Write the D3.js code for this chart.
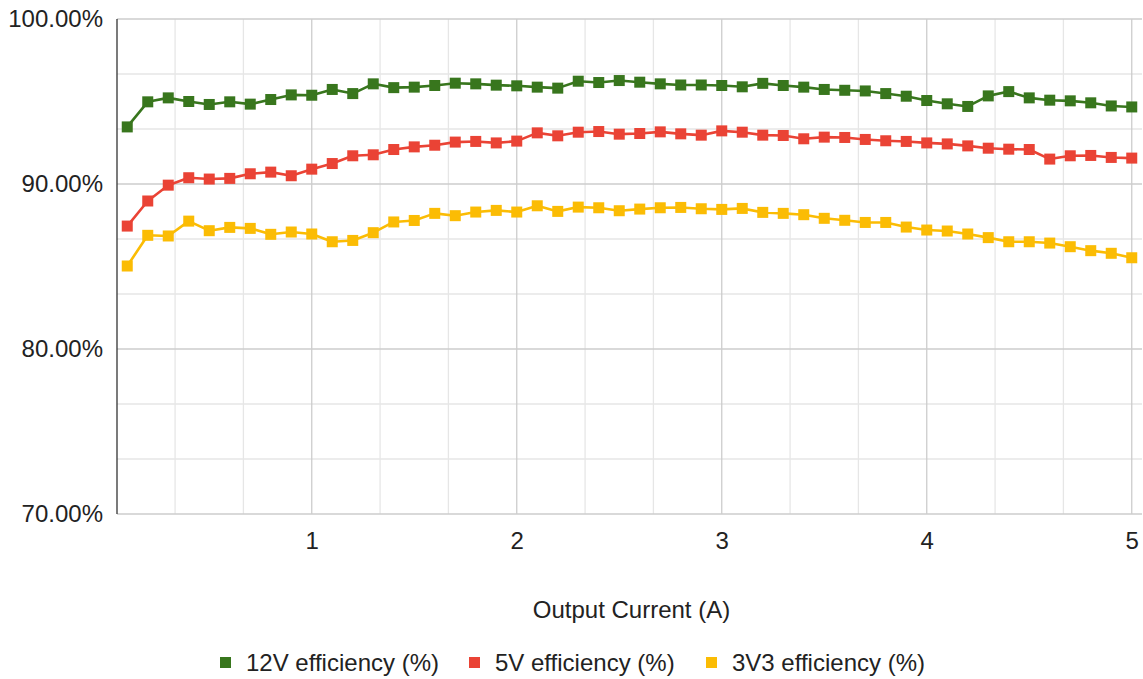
<!DOCTYPE html>
<html>
<head>
<meta charset="utf-8">
<script src="https://cdn.jsdelivr.net/npm/d3@7"></script>
<style>
  html, body { margin: 0; padding: 0; background: #fff; }
  svg { display: block; font-family: "Liberation Sans", Arial, sans-serif; }
</style>
</head>
<body>
<svg id="chart" width="1143" height="679"></svg>
<script>
const current = [
  0.1, 0.2, 0.3, 0.4, 0.5, 0.6, 0.7, 0.8, 0.9, 1.0,
  1.1, 1.2, 1.3, 1.4, 1.5, 1.6, 1.7, 1.8, 1.9, 2.0,
  2.1, 2.2, 2.3, 2.4, 2.5, 2.6, 2.7, 2.8, 2.9, 3.0,
  3.1, 3.2, 3.3, 3.4, 3.5, 3.6, 3.7, 3.8, 3.9, 4.0,
  4.1, 4.2, 4.3, 4.4, 4.5, 4.6, 4.7, 4.8, 4.9, 5.0
];

const eff12V = [
  93.46, 94.98, 95.22, 95.00, 94.82, 94.98, 94.84, 95.12, 95.40, 95.38,
  95.73, 95.48, 96.07, 95.84, 95.87, 95.97, 96.11, 96.07, 95.99, 95.95,
  95.87, 95.81, 96.23, 96.15, 96.27, 96.17, 96.07, 96.00, 96.00, 95.97,
  95.89, 96.10, 95.97, 95.87, 95.73, 95.68, 95.64, 95.48, 95.32, 95.06,
  94.86, 94.70, 95.34, 95.60, 95.22, 95.08, 95.04, 94.92, 94.73, 94.67
];

const eff5V = [
  87.45, 88.97, 89.93, 90.38, 90.30, 90.34, 90.62, 90.72, 90.50, 90.90,
  91.24, 91.71, 91.77, 92.09, 92.25, 92.35, 92.54, 92.58, 92.49, 92.60,
  93.10, 92.92, 93.14, 93.18, 93.02, 93.06, 93.16, 93.04, 92.96, 93.22,
  93.14, 92.96, 92.94, 92.74, 92.84, 92.82, 92.70, 92.62, 92.58, 92.49,
  92.43, 92.31, 92.17, 92.11, 92.09, 91.51, 91.71, 91.73, 91.61, 91.57
];

const eff3V3 = [
  85.03, 86.89, 86.85, 87.75, 87.17, 87.37, 87.31, 86.95, 87.09, 86.97,
  86.50, 86.58, 87.05, 87.70, 87.79, 88.22, 88.08, 88.30, 88.40, 88.30,
  88.68, 88.34, 88.60, 88.56, 88.38, 88.48, 88.56, 88.58, 88.50, 88.46,
  88.52, 88.28, 88.22, 88.14, 87.92, 87.80, 87.67, 87.67, 87.39, 87.21,
  87.15, 86.97, 86.75, 86.50, 86.50, 86.42, 86.20, 85.96, 85.80, 85.53
];

const seriesNames = ["12V efficiency (%)", "5V efficiency (%)", "3V3 efficiency (%)"];
const seriesColors = ["#38761d", "#ea4335", "#fbbc04"];
const xTicks = [1, 2, 3, 4, 5];
const yTicks = [70, 80, 90, 100];

const svg = d3.select("#chart"),
  margin = { top: 19, right: 1, bottom: 165, left: 117 },
  width = +svg.attr("width") - margin.left - margin.right,
  height = +svg.attr("height") - margin.top - margin.bottom;

const chart = svg.append("g")
  .attr("transform", `translate(${margin.left},${margin.top})`);

const x = d3.scaleLinear().domain([0.05, 5.05]).range([0, width]);
const y = d3.scaleLinear().domain([70, 100]).range([height, 0]);

// minor grid (thirds)
const minorX = d3.range(1, 16).map((i) => i / 3).filter((v) => Math.abs(v - Math.round(v)) > 1e-6);
const minorY = d3.range(0, 10).map((i) => 70 + (i * 10) / 3).filter((v) => Math.abs(v - Math.round(v / 10) * 10) > 1e-6);

chart.append("g").selectAll("line").data(minorX).join("line")
  .attr("x1", (d) => x(d)).attr("x2", (d) => x(d))
  .attr("y1", 0).attr("y2", height)
  .attr("stroke", "#e6e6e6").attr("stroke-width", 1.3);

chart.append("g").selectAll("line").data(minorY).join("line")
  .attr("x1", 0).attr("x2", width)
  .attr("y1", (d) => y(d)).attr("y2", (d) => y(d))
  .attr("stroke", "#e6e6e6").attr("stroke-width", 1.3);

// major grid
chart.append("g").selectAll("line").data(xTicks).join("line")
  .attr("x1", (d) => x(d)).attr("x2", (d) => x(d))
  .attr("y1", 0).attr("y2", height)
  .attr("stroke", "#cccccc").attr("stroke-width", 1.3);

chart.append("g").selectAll("line").data(yTicks).join("line")
  .attr("x1", 0).attr("x2", width)
  .attr("y1", (d) => y(d)).attr("y2", (d) => y(d))
  .attr("stroke", "#cccccc").attr("stroke-width", 1.5);

// left axis line
chart.append("line")
  .attr("x1", 0).attr("x2", 0).attr("y1", 0).attr("y2", height)
  .attr("stroke", "#333").attr("stroke-width", 1.3);

// axes (labels only)
const yAxis = chart.append("g")
  .call(d3.axisLeft(y).tickValues(yTicks).tickSize(0).tickPadding(14)
    .tickFormat((d) => d3.format(".2f")(d) + "%"));
yAxis.select(".domain").remove();
yAxis.selectAll("text")
  .attr("font-size", 24).attr("fill", "#222")
  .attr("font-family", "'Liberation Sans', Arial, sans-serif");

const xAxis = chart.append("g")
  .attr("transform", `translate(0,${height})`)
  .call(d3.axisBottom(x).tickValues(xTicks).tickSize(0).tickPadding(18).tickFormat(d3.format("d")));
xAxis.select(".domain").remove();
xAxis.selectAll("text")
  .attr("font-size", 24).attr("fill", "#222")
  .attr("font-family", "'Liberation Sans', Arial, sans-serif");

// axis title
svg.append("text")
  .attr("x", margin.left + width / 2 + 2)
  .attr("y", 618)
  .attr("text-anchor", "middle")
  .attr("font-size", 24)
  .attr("fill", "#222")
  .text("Output Current (A)");

// series
const seriesValues = [eff12V, eff5V, eff3V3];
const series = seriesNames.map((name, i) => ({
  name,
  color: seriesColors[i],
  points: current.map((c, j) => ({ c, v: seriesValues[i][j] }))
}));

const line = d3.line().x((d) => x(d.c)).y((d) => y(d.v));

series.slice().reverse().forEach((s) => {
  const g = chart.append("g");
  g.append("path")
    .datum(s.points)
    .attr("fill", "none")
    .attr("stroke", s.color)
    .attr("stroke-width", 2.6)
    .attr("stroke-linejoin", "round")
    .attr("d", line);
  g.selectAll("rect").data(s.points).join("rect")
    .attr("x", (d) => x(d.c) - 5.5)
    .attr("y", (d) => y(d.v) - 5.5)
    .attr("width", 11).attr("height", 11)
    .attr("fill", s.color);
});

// legend
const legendX = [220, 469, 706];
const legend = svg.append("g").selectAll("g").data(series).join("g")
  .attr("transform", (d, i) => `translate(${legendX[i]},657)`);
legend.append("rect")
  .attr("width", 11).attr("height", 11)
  .attr("fill", (d) => d.color);
legend.append("text")
  .attr("x", 26).attr("y", 14)
  .attr("font-size", 24)
  .attr("fill", "#222")
  .text((d) => d.name);
</script>
</body>
</html>
